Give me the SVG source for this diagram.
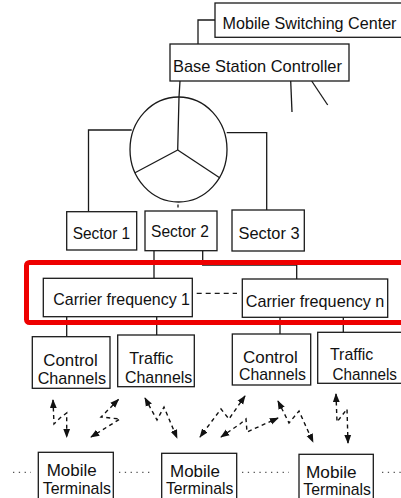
<svg xmlns="http://www.w3.org/2000/svg" width="401" height="498" viewBox="0 0 401 498">
  <style>
    .box{fill:#fff;stroke:#1a1a1a;stroke-width:1.3}
    .t{font-family:"Liberation Sans",Arial,sans-serif;font-size:17px;fill:#111}
    .ln{fill:none;stroke:#1a1a1a;stroke-width:1.3}
    .dash{fill:none;stroke:#1a1a1a;stroke-width:1.3;stroke-dasharray:5 4}
    .radio{fill:none;stroke:#111;stroke-width:1.4;stroke-dasharray:4 3.5;marker-start:url(#ah);marker-end:url(#ah)}
    .dots{fill:none;stroke:#555;stroke-width:1.3;stroke-dasharray:1.3 4.5}
    .hl{fill:none;stroke:#ee0000;stroke-width:5}
  </style>
  <defs>
    <marker id="ah" viewBox="0 0 10 10" refX="9" refY="5" markerWidth="9" markerHeight="9" markerUnits="userSpaceOnUse" orient="auto-start-reverse">
      <path d="M0,1.2 L10,5 L0,8.8 z" fill="#111"/>
    </marker>
  </defs>

  <!-- connectors -->
  <g id="connectors">
    <path class="ln" d="M215,20 H198 V44"/>
    <path class="ln" d="M180,81 L179,97 L177.7,150"/>
    <path class="ln" d="M177.7,150 L135,172.7"/>
    <path class="ln" d="M177.7,150 L220,178"/>
    <path class="ln" d="M290.7,81 L292,112"/>
    <path class="ln" d="M311.7,81 L327.7,105"/>
    <path class="ln" d="M131.7,130 H88.5 V211.7"/>
    <path class="ln" d="M226.7,132.7 H266.7 V210"/>
    <path class="ln" d="M178,204.5 V207.5"/>
    <path class="ln" d="M154,250.7 V278.3"/>
    <path class="ln" d="M202.7,250.7 V265 H296.7 V279"/>
    <path class="ln" d="M66.7,316.7 V336.7"/>
    <path class="ln" d="M156.7,316.7 V335"/>
    <path class="ln" d="M280,317.3 V334"/>
    <path class="ln" d="M343.3,317.3 V332.3"/>
    <path class="dash" d="M196.7,293.3 H237"/>
    <!-- radio links -->
    <path class="radio" d="M53,400 L54,424 L60,418 L66.7,413 L66.7,437"/>
    <path class="radio" d="M118.5,399.5 L101,417 L120,419 L91,437"/>
    <path class="radio" d="M145,398 L157,420 L164,407 L177,438"/>
    <path class="radio" d="M245,396 L229,419 L221,409 L200,437"/>
    <path class="radio" d="M221,437 L240,424 L246,419 L247,432 L278,418"/>
    <path class="radio" d="M278,401 L289,423 L299,411 L313,442"/>
    <path class="radio" d="M336,394 L337,422 L347,409 L348,443"/>
    <!-- terminal rows -->
    <path class="dots" d="M13,472.3 H31"/>
    <path class="dots" d="M119,472.3 H152"/>
    <path class="dots" d="M242,472.3 H289"/>
    <path class="dots" d="M382,472.3 H401"/>
  </g>

  <g id="msc">
    <rect class="box" x="215" y="3" width="200" height="34.3"/>
    <text class="t" x="222.5" y="28.5" textLength="174" lengthAdjust="spacingAndGlyphs">Mobile Switching Center</text>
  </g>
  <g id="bsc">
    <rect class="box" x="170" y="44" width="179" height="37"/>
    <text class="t" x="173" y="72" textLength="169" lengthAdjust="spacingAndGlyphs">Base Station Controller</text>
  </g>
  <g id="antenna">
    <ellipse class="ln" cx="178.5" cy="149.5" rx="48.5" ry="52.5"/>
  </g>

  <g id="sector1">
    <rect class="box" x="66.7" y="211.7" width="70" height="38.3"/>
    <text class="t" x="72.7" y="239.3" textLength="57.5" lengthAdjust="spacingAndGlyphs">Sector 1</text>
  </g>
  <g id="sector2">
    <rect class="box" x="145" y="211" width="72" height="39.7"/>
    <text class="t" x="151" y="237" textLength="58" lengthAdjust="spacingAndGlyphs">Sector 2</text>
  </g>
  <g id="sector3">
    <rect class="box" x="232" y="210" width="72.3" height="41"/>
    <text class="t" x="238.5" y="239.3" textLength="61" lengthAdjust="spacingAndGlyphs">Sector 3</text>
  </g>

  <g id="carrier1">
    <rect class="box" x="43.3" y="278.3" width="149" height="38.4"/>
    <text class="t" x="53.3" y="305.3" textLength="136.7" lengthAdjust="spacingAndGlyphs">Carrier frequency 1</text>
  </g>
  <g id="carrierN">
    <rect class="box" x="242.3" y="279" width="145.4" height="38.3"/>
    <text class="t" x="245.7" y="307" textLength="138.7" lengthAdjust="spacingAndGlyphs">Carrier frequency n</text>
  </g>

  <g id="control1">
    <rect class="box" x="32.3" y="336.7" width="77.7" height="51.6"/>
    <text class="t" x="43.3" y="366" textLength="54.4" lengthAdjust="spacingAndGlyphs">Control</text>
    <text class="t" x="37.7" y="383.5" textLength="68.3" lengthAdjust="spacingAndGlyphs">Channels</text>
  </g>
  <g id="traffic1">
    <rect class="box" x="117.7" y="335" width="76.6" height="51.7"/>
    <text class="t" x="129.3" y="363.5" textLength="44" lengthAdjust="spacingAndGlyphs">Traffic</text>
    <text class="t" x="125" y="383" textLength="67.3" lengthAdjust="spacingAndGlyphs">Channels</text>
  </g>
  <g id="control2">
    <rect class="box" x="232.3" y="334" width="78.4" height="51"/>
    <text class="t" x="243" y="363" textLength="54.7" lengthAdjust="spacingAndGlyphs">Control</text>
    <text class="t" x="239" y="380.3" textLength="67" lengthAdjust="spacingAndGlyphs">Channels</text>
  </g>
  <g id="traffic2">
    <rect class="box" x="317.7" y="332.3" width="90" height="51"/>
    <text class="t" x="330" y="359.5" textLength="43.3" lengthAdjust="spacingAndGlyphs">Traffic</text>
    <text class="t" x="332.5" y="380.3" textLength="64.5" lengthAdjust="spacingAndGlyphs">Channels</text>
  </g>

  <g id="terminals1">
    <rect class="box" x="38.3" y="452.3" width="75" height="60"/>
    <text class="t" x="46.7" y="476" textLength="50" lengthAdjust="spacingAndGlyphs">Mobile</text>
    <text class="t" x="42.7" y="493.5" textLength="68.3" lengthAdjust="spacingAndGlyphs">Terminals</text>
  </g>
  <g id="terminals2">
    <rect class="box" x="161.7" y="453.3" width="75" height="60"/>
    <text class="t" x="170" y="477" textLength="50" lengthAdjust="spacingAndGlyphs">Mobile</text>
    <text class="t" x="166" y="494.3" textLength="67.3" lengthAdjust="spacingAndGlyphs">Terminals</text>
  </g>
  <g id="terminals3">
    <rect class="box" x="299" y="454.3" width="74.3" height="60"/>
    <text class="t" x="306" y="478" textLength="50.7" lengthAdjust="spacingAndGlyphs">Mobile</text>
    <text class="t" x="303.3" y="495.3" textLength="67.7" lengthAdjust="spacingAndGlyphs">Terminals</text>
  </g>

  <!-- highlight around the carrier layer -->
  <g id="carrier-highlight">
    <rect class="hl" x="26.5" y="262.5" width="380" height="60" rx="3"/>
  </g>
</svg>
